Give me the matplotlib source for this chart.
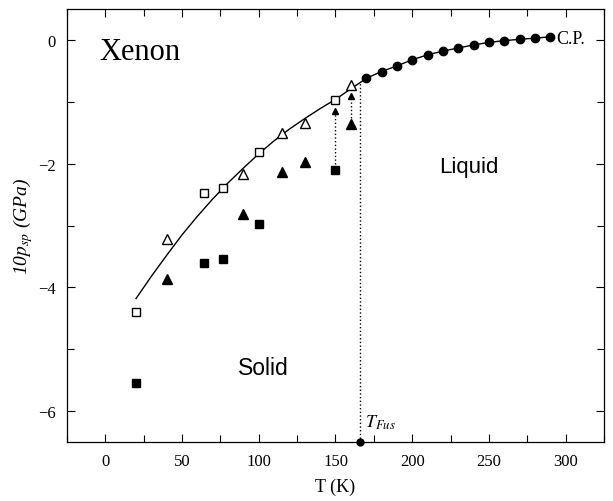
import matplotlib.pyplot as plt
from matplotlib.ticker import MultipleLocator

# solid-phase points (K, 10*p_sp in GPa)
open_sq_t = [20, 64, 77, 100, 150]
open_sq_v = [-4.39, -2.48, -2.40, -1.81, -0.97]
open_tri_t = [40, 90, 115, 130, 160]
open_tri_v = [-3.22, -2.16, -1.51, -1.34, -0.73]
fill_sq_t = [20, 64, 77, 100, 150]
fill_sq_v = [-5.54, -3.61, -3.54, -2.97, -2.11]
fill_tri_t = [40, 90, 115, 130, 160]
fill_tri_v = [-3.86, -2.81, -2.14, -1.98, -1.36]

# liquid branch up to the critical point
liq_t = [170, 180, 190, 200, 210, 220, 230, 240, 250, 260, 270, 280, 289.7]
liq_v = [-0.62, -0.51, -0.42, -0.32, -0.24, -0.18, -0.13, -0.08, -0.04, -0.01, 0.01, 0.03, 0.05]

# fitted solid curve
curve_t = [20, 30, 40, 50, 60, 70, 80, 90, 100, 110, 120, 130, 140, 150, 160, 166, 170]
curve_v = [-4.18, -3.82, -3.48, -3.15, -2.85, -2.57, -2.31, -2.07, -1.84, -1.63, -1.44,
           -1.27, -1.11, -0.96, -0.79, -0.69, -0.62]

t_fus = 166

plt.rcParams['font.family'] = 'Liberation Serif'
plt.rcParams['mathtext.fontset'] = 'stix'

fig = plt.figure(figsize=(6.13, 5.02), dpi=100)
ax = fig.add_axes([0.1093, 0.1175, 0.876, 0.8625])

ax.plot(curve_t, curve_v, color='black', lw=1.0)
ax.plot(liq_t, liq_v, color='black', lw=1.0, marker='o', ms=6, mfc='black', mec='black')

ax.plot(open_sq_t, open_sq_v, ls='none', marker='s', ms=5.5, mfc='white', mec='black', mew=1.0)
ax.plot(open_tri_t, open_tri_v, ls='none', marker='^', ms=6.5, mfc='white', mec='black', mew=1.0)
ax.plot(fill_sq_t, fill_sq_v, ls='none', marker='s', ms=6, mfc='black', mec='black')
ax.plot(fill_tri_t, fill_tri_v, ls='none', marker='^', ms=6.5, mfc='black', mec='black')

# dotted arrows from filled to open points near melting
for ti, v0, v1 in [(open_sq_t[-1], fill_sq_v[-1], open_sq_v[-1]),
                   (open_tri_t[-1], fill_tri_v[-1], open_tri_v[-1])]:
    tip = v1 - 0.13
    ax.plot([ti, ti], [v0 + 0.1, tip - 0.08], color='black', ls=':', lw=1.0)
    ax.plot([ti], [tip - 0.05], ls='none', marker='^', ms=4, mfc='black', mec='black')

# melting temperature line
ax.plot([t_fus, t_fus], [-6.5, curve_v[-2]], color='black', ls=':', lw=1.0)
ax.plot([t_fus], [-6.5], ls='none', marker='o', ms=5, color='black', clip_on=False, zorder=5)

ax.text(-4, -0.18, 'Xenon', fontsize=22, va='center', ha='left')
ax.text(237, -2.05, 'Liquid', fontsize=16, family='Liberation Sans', ha='center', va='center')
ax.text(103, -5.3, 'Solid', fontsize=16.5, family='Liberation Sans', ha='center', va='center')
ax.text(294, 0.03, 'C.P.', fontsize=13, ha='left', va='center')
ax.text(169, -6.18, r'$T_{Fus}$', fontsize=13, ha='left', va='center')

ax.set_xlim(-25, 325)
ax.set_ylim(-6.5, 0.5)
ax.xaxis.set_major_locator(MultipleLocator(50))
ax.xaxis.set_minor_locator(MultipleLocator(25))
ax.yaxis.set_major_locator(MultipleLocator(2))
ax.yaxis.set_minor_locator(MultipleLocator(1))
ax.tick_params(which='both', direction='in', top=True, right=True, labelsize=12, width=0.8)
ax.tick_params(which='major', length=6, pad=8)
ax.tick_params(which='minor', length=5)
for s in ax.spines.values():
    s.set_linewidth(0.9)

ax.set_xlabel('T (K)', fontsize=13, labelpad=6)
ax.set_ylabel('10$p_{sp}$ (GPa)', fontsize=14, fontstyle='italic', labelpad=2)

fig.savefig('out.png', dpi=100)
